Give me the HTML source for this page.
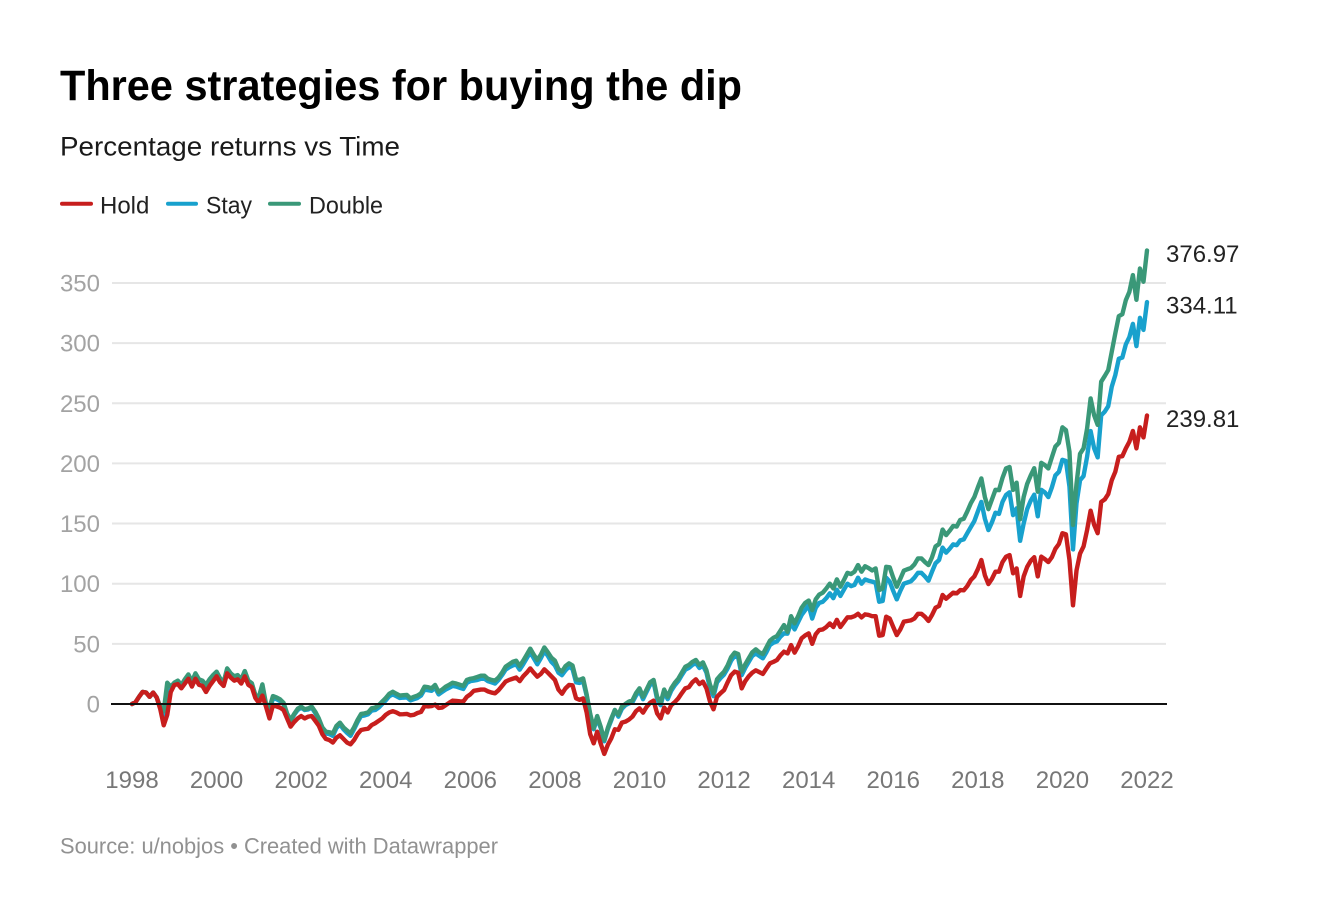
<!DOCTYPE html>
<html lang="en">
<head>
<meta charset="utf-8">
<title>Three strategies for buying the dip</title>
<style>
html,body{margin:0;padding:0;background:#fff;}
svg{display:block;}
text{font-family:"Liberation Sans",Arial,sans-serif;}
</style>
</head>
<body>
<svg id="chart" xmlns="http://www.w3.org/2000/svg" width="1320" height="920" viewBox="0 0 1320 920">
  <text x="60" y="100" font-size="43" font-weight="700" fill="#000" textLength="682" lengthAdjust="spacingAndGlyphs">Three strategies for buying the dip</text>
  <text x="60" y="155.5" font-size="27" fill="#1a1a1a" textLength="340" lengthAdjust="spacingAndGlyphs">Percentage returns vs Time</text>
  <g>
    <line x1="62" x2="91" y1="203.7" y2="203.7" stroke="#c71e1d" stroke-width="4" stroke-linecap="round"/>
    <text x="100" y="213.5" font-size="24" fill="#222">Hold</text>
    <line x1="168" x2="196" y1="203.7" y2="203.7" stroke="#18a1cd" stroke-width="4" stroke-linecap="round"/>
    <text x="206" y="213.5" font-size="24" fill="#222" textLength="46" lengthAdjust="spacingAndGlyphs">Stay</text>
    <line x1="270" x2="299" y1="203.7" y2="203.7" stroke="#3a9878" stroke-width="4" stroke-linecap="round"/>
    <text x="309" y="213.5" font-size="24" fill="#222" textLength="74" lengthAdjust="spacingAndGlyphs">Double</text>
  </g>
  <g id="grid"></g>
  <g id="ylabels"></g>
  <g id="xlabels"></g>
  <g id="series"></g>
  <line id="zero" x1="111" x2="1167" stroke="#111" stroke-width="2"/>
  <g id="endlabels"></g>
  <text x="60" y="853.5" font-size="22" fill="#919191" textLength="438" lengthAdjust="spacingAndGlyphs">Source: u/nobjos • Created with Datawrapper</text>
</svg>
<script>
// Monthly observations, January 1998 to January 2022
const startYear = 1998;
const yTicks = [0, 50, 100, 150, 200, 250, 300, 350];
const xTickYears = [1998, 2000, 2002, 2004, 2006, 2008, 2010, 2012, 2014, 2016, 2018, 2020, 2022];
const endValues = ["239.81", "334.11", "376.97"];

const hold = [
0,1.5,6,10,9.5,6,9.5,5.5,-4,-17.7,
-9,10,15.8,16.5,13,17,21,14.5,21,16,
15,10,15,19,23,18,15,25.5,22,19.4,
20.5,17,23,16,14,5,1,7,-2,-12,
-1,-2,-3,-5,-12,-18.8,-15,-12,-10,-12,
-10.5,-10,-14,-18,-25,-29,-30,-32,-28,-26,
-29,-32,-33.5,-30,-25,-21.6,-21,-20.5,-17.5,-16,
-14,-12,-9,-7,-6,-7,-8.6,-8.5,-8.3,-9.4,
-9,-7.5,-6.6,-1.7,-2,-1.7,-0.5,-3.3,-3,-1,
1,2.8,2.5,2.2,2,6,8,11,11.5,12,
12,10.5,9.5,8.9,11.5,15,18.6,20,21,22,
19,23,26,29.6,26,22.7,25,28.8,26,23,
20,12,8.5,13,15.8,15.5,4.7,3.5,4.7,-7,
-25,-32.7,-23,-33,-41.5,-34,-28.5,-21,-21.5,-15.5,
-14.7,-13,-10.5,-6,-3.6,-7.2,-2.5,1,2.8,-7.8,
-12,-3,-7,-1,1.5,4.7,9,13,14,18,
20.5,16.6,18.6,13,2,-4.4,6,9,11.6,18,
24,26.9,26,13,19,23,26,28,26.5,25,
29.5,33.8,35,36.5,40.5,43.5,42,49,42.7,48,
54.6,57,58.7,50,58,61.5,62,64,67,64,
70,64,68,72,72,73,75,72,74.5,74,
73,73,56.8,57.3,72.6,71,64,57.3,62,68.4,
69,69.5,71,75,75,72.5,69,74,80,81.5,
90.6,87.5,90,92.5,92,94.7,94.5,98,103,106,
112,119.7,107,99.7,104,110,110,118,122.4,123.8,
108.6,112.7,89.8,106,114,119,122,106,122.5,120.5,
118,122,129,133,142,141,119.7,82,111,125,
131,144.6,160.7,149,142,168,170,174.5,186,193,
205.5,206,212.5,218,227,212.5,230,221.6,239.81
];

const stay = [
0,1.5,6,10,9.5,6,9.5,5.5,-3,-9,
13,14,17,18.5,15,20,24,18,25,20,
19,15.2,20,24,26.5,21,17.5,29,25,22.5,
23.5,20,27,19,16.8,7,3.5,13,-0.5,-7,
5,4,2.5,0,-8.5,-14,-9,-5,-3,-5,
-4.5,-3,-7.5,-13,-20,-24.5,-25,-26.5,-20,-17,
-21,-24,-26.5,-21,-15,-10,-9.5,-8.5,-5.5,-5,
-3,0,3,6.5,8,6.5,5,5.3,5.5,3,
4,5,7,12,11.5,11,13.5,8,10,12,
13.5,15,14.5,13.5,12.5,17.5,19,19.5,20,21,
21,19,18,17,20,24,28.5,30.5,32,33,
28.5,33,38,43,38,33,38,44,40,35,
32,26,24,28,31,29,18,17.5,19,7,
-9,-21,-12,-20,-31,-21,-13.5,-5,-10.5,-4,
-1,0.5,1.5,7,11,4,10,16,18,4,
-1,10,4,11,15.5,19,24,28.5,30,32.5,
34,30,32,26,13,6.5,18,21.5,24.5,29.5,
36,40,38.5,24,30,35,40,42,40,38,
43,49,51,52,56,58.7,58.5,67.6,62,68,
74,78,82,71,80,84,85,88,92,88,
95,89.8,95,100,98,99,105,100,103.5,102.5,
101.7,100.8,85,85.6,105,101.7,94,87,94,100,
101,102,105,109,109,106,102.5,110,117,119.7,
130,125.8,129,132.7,132,136,136.8,142,147,152,
160,168,154,144.6,151,159,158,168,173.7,176,
157,162.6,135.7,150,162,169,174,156,178,176,
172,180,190,193,203,202,180.6,128.5,166.8,186,
189.5,205.5,226.9,212.5,205,240,243,247.6,263.7,273.4,
287,288,299,305,316,297.5,321,311,334.11
];

const double = [
0,1.5,6,10,9.5,6,9.5,5.5,-2,-6,
17.7,14.4,17.7,19.4,15.8,20.5,24.6,18.6,25.5,20.5,
19.4,15.8,20.5,24,26.9,21.3,18,29.6,25.5,23,
24,20.5,27.4,19.4,17.2,7.5,6,16.3,0.5,-3,
6.6,5.5,3.9,1,-7.8,-13.3,-8.3,-4,-2.2,-4.4,
-3.6,-2.2,-6.4,-12,-19.4,-23,-23.5,-24.4,-18.3,-15.5,
-19.4,-22,-24.4,-19.4,-13.3,-8.3,-7.8,-7,-3.6,-3,
-1,2,5,8.5,10.2,8.5,7,7.3,7.5,4.7,
6,7,8.9,14.4,14,13,15.8,10,12,14.4,
16,17.7,17,16,15,20,21,21.5,22.5,23.5,
23.5,21,20,19.4,22,26,31,33,35,36,
31.6,36,41,46,41,36.6,41,47,43,38.5,
36,29,27,31.5,33.8,32,20.5,20,21.3,8,
-8,-20,-10,-19,-30,-20,-12,-5,-9,-2.2,
0,2,3,9,13,6,12,18,20,6,
1,12,6,13,17.5,21,26,31,32.4,35,
36.6,32.4,34.6,28,16,8.9,20.5,24,26.9,32,
39,42.7,41.5,26.9,33,38,43,45.4,43,41.5,
47,52.6,55,56.5,61,65.6,60,73,67,73,
80,84,86,78,87,91,92.5,96,100,96,
103.6,97.5,103,109,108,110,115.5,110,114.5,113,
111,112.7,94.7,96,114,113.6,105,97.5,104,110.8,
112,113,116,121,121,118,115.5,122,131,133,
145,140.4,144,148,147.5,153,154,160,166.8,172,
180,187.5,172,162,170,178,177.8,188,195.8,197,
178,184,153.5,172,183,190,196,176.5,200.5,198.6,
195.8,205,214,217,230,227.7,209.7,148.8,183,208,
212.5,229,254,240,232,267.9,272.6,277.6,292.8,308,
322.4,324,335.7,342.6,356.5,336,362,351,376.97
];

const NS = 'http://www.w3.org/2000/svg';
const xYear = y => 132 + (y - startYear) * (1015 / 24);
const xMonth = i => xYear(startYear + i / 12);
const yVal = v => 704 - v * 1.203;

function make(tag, parent, attrs, txt) {
  const el = document.createElementNS(NS, tag);
  for (const k in attrs) el.setAttribute(k, attrs[k]);
  if (txt !== undefined) el.textContent = txt;
  parent.appendChild(el);
  return el;
}

const grid = document.getElementById('grid');
const ylabels = document.getElementById('ylabels');
yTicks.forEach(t => {
  if (t !== 0) {
    const g = make('line', grid, {x1: 112, x2: 1166, y1: yVal(t), y2: yVal(t), stroke: '#e6e6e6', 'stroke-width': 2});
    
    
  }
  const l = make('text', ylabels, {x: 100, y: yVal(t) + 8.5, 'text-anchor': 'end', 'font-size': 24, fill: '#a3a3a3'}, String(t));
  
  
});

const xlabels = document.getElementById('xlabels');
xTickYears.forEach(y => {
  const l = make('text', xlabels, {x: xYear(y), y: 788, 'text-anchor': 'middle', 'font-size': 24, fill: '#777'}, String(y));
  
  
});

const zero = document.getElementById('zero');
zero.setAttribute('y1', yVal(0));
zero.setAttribute('y2', yVal(0));

const series = document.getElementById('series');
function drawLine(values, color) {
  const d = values.map((v, i) => (i ? 'L' : 'M') + xMonth(i).toFixed(2) + ' ' + yVal(v).toFixed(2)).join('');
  return make('path', series, {d: d, fill: 'none', stroke: color, 'stroke-width': 4.4, 'stroke-linejoin': 'round', 'stroke-linecap': 'round'});
}
const stayLine = drawLine(stay, '#18a1cd');


const doubleLine = drawLine(double, '#3a9878');


const holdLine = drawLine(hold, '#c71e1d');



const endlabels = document.getElementById('endlabels');
const lastVals = [hold[hold.length - 1], stay[stay.length - 1], double[double.length - 1]];
lastVals.forEach((v, i) => {
  const l = make('text', endlabels, {x: 1166, y: yVal(v) + 11.5, 'font-size': 24, fill: '#222'}, endValues[i]);
  
  
});
</script>
</body>
</html>
